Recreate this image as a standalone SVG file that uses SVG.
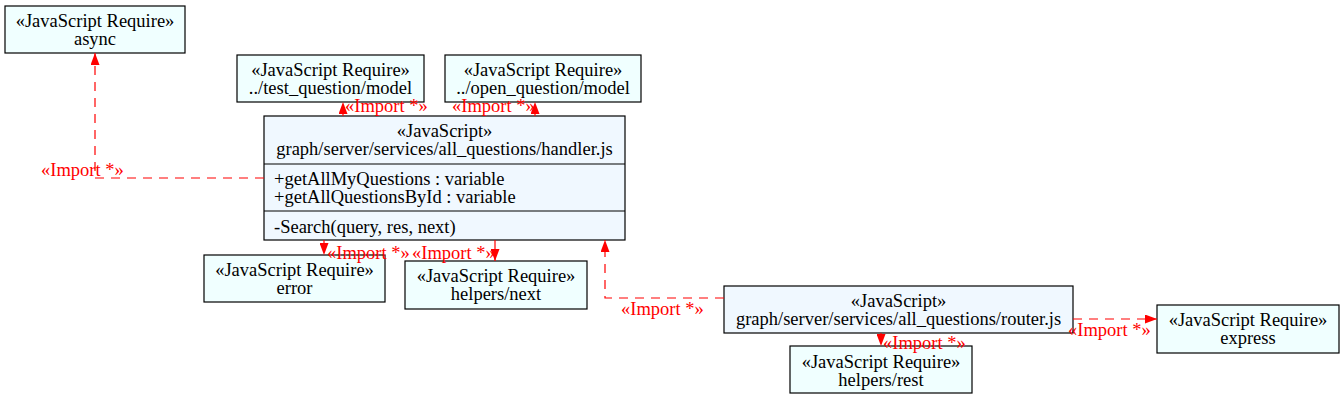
<svg xmlns="http://www.w3.org/2000/svg" width="1344" height="400" viewBox="0 0 1344 400" font-family="'Liberation Serif', 'Times New Roman', serif" font-size="18.5">
<defs>
<marker id="ah" viewBox="0 0 12 9" refX="12" refY="4.5" markerWidth="12" markerHeight="9" markerUnits="userSpaceOnUse" orient="auto">
<path d="M0,0 L12,4.5 L0,9 Z" fill="#ff0000"/>
</marker>
<style>
.req{fill:#f0ffff;stroke:#000;stroke-width:1.2}
.js{fill:#f0f8ff;stroke:#000;stroke-width:1.2}
.c{text-anchor:middle}
.e{fill:none;stroke:#ff0000;stroke-width:1.2;stroke-dasharray:9,7;marker-end:url(#ah)}
.lbl{fill:#ff0000}
</style>
</defs>
<rect width="1344" height="400" fill="#fff"/>
<g id="async">
<rect class="req" x="5" y="6" width="180" height="47"/>
<text class="c" x="95" y="27">«JavaScript Require»</text>
<text class="c" x="95" y="45">async</text>
</g>
<g id="test_question_model">
<rect class="req" x="237" y="55" width="187" height="47"/>
<text class="c" x="330.5" y="76">«JavaScript Require»</text>
<text class="c" x="330.5" y="94">../test_question/model</text>
</g>
<g id="open_question_model">
<rect class="req" x="445" y="55" width="196" height="47"/>
<text class="c" x="543" y="76">«JavaScript Require»</text>
<text class="c" x="543" y="94">../open_question/model</text>
</g>
<g id="handler">
<rect class="js" x="264" y="116" width="361" height="124"/>
<line x1="264" y1="164" x2="625" y2="164" stroke="#000" stroke-width="1.2"/>
<line x1="264" y1="211" x2="625" y2="211" stroke="#000" stroke-width="1.2"/>
<text class="c" x="444.5" y="137">«JavaScript»</text>
<text class="c" x="444.5" y="155">graph/server/services/all_questions/handler.js</text>
<text x="274" y="185">+getAllMyQuestions : variable</text>
<text x="274" y="203">+getAllQuestionsById : variable</text>
<text x="274" y="233">-Search(query, res, next)</text>
</g>
<g id="error">
<rect class="req" x="204" y="255" width="181" height="47"/>
<text class="c" x="294.5" y="276">«JavaScript Require»</text>
<text class="c" x="294.5" y="294">error</text>
</g>
<g id="helpers_next">
<rect class="req" x="405" y="261" width="182" height="48"/>
<text class="c" x="496" y="282">«JavaScript Require»</text>
<text class="c" x="496" y="300">helpers/next</text>
</g>
<g id="router">
<rect class="js" x="724" y="286" width="349" height="47"/>
<text class="c" x="898.5" y="307">«JavaScript»</text>
<text class="c" x="898.5" y="325">graph/server/services/all_questions/router.js</text>
</g>
<g id="helpers_rest">
<rect class="req" x="790" y="346" width="182" height="47"/>
<text class="c" x="881" y="368">«JavaScript Require»</text>
<text class="c" x="881" y="386">helpers/rest</text>
</g>
<g id="express">
<rect class="req" x="1157" y="305" width="182" height="48"/>
<text class="c" x="1248" y="326">«JavaScript Require»</text>
<text class="c" x="1248" y="344">express</text>
</g>
<g id="connectors">
<path class="e" d="M264,178 L95,178 L95,53"/>
<text class="lbl" x="41" y="176">«Import *»</text>
<path class="e" d="M343,116 L343,102"/>
<text class="lbl" x="345" y="112">«Import *»</text>
<path class="e" d="M535,116 L535,102"/>
<text class="lbl" x="452" y="112">«Import *»</text>
<path class="e" d="M324,240 L324,255"/>
<text class="lbl" x="327" y="259">«Import *»</text>
<path class="e" d="M495,240 L495,261"/>
<text class="lbl" x="412" y="259">«Import *»</text>
<path class="e" d="M724,298 L605,298 L605,240"/>
<text class="lbl" x="621" y="315">«Import *»</text>
<path class="e" d="M881,333 L881,346"/>
<text class="lbl" x="883" y="349">«Import *»</text>
<path class="e" d="M1073,319 L1157,319"/>
<text class="lbl" x="1068" y="336">«Import *»</text>
</g>
</svg>
